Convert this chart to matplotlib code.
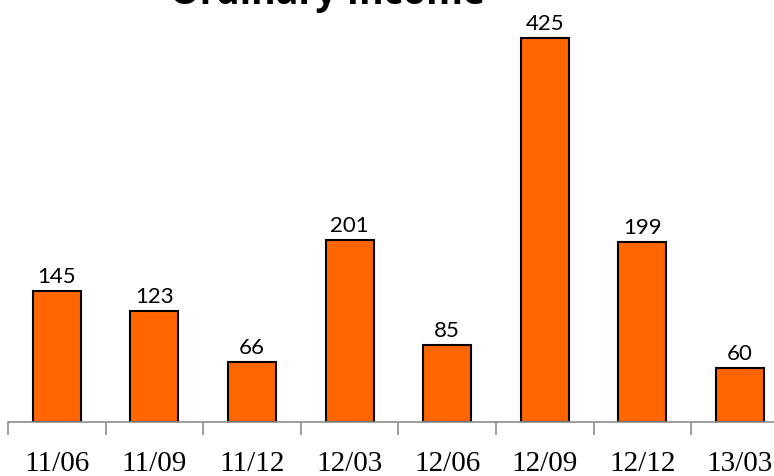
import matplotlib
matplotlib.use("Agg")
import matplotlib.pyplot as plt
from matplotlib.ticker import FixedLocator, NullFormatter

periods = ["11/06", "11/09", "11/12", "12/03", "12/06", "12/09", "12/12", "13/03"]
income = [145, 123, 66, 201, 85, 425, 199, 60]

W, H = 774, 476
fig = plt.figure(figsize=(W / 100, H / 100), dpi=100)

# axes: baseline at y=422 px, category pitch ~97.6 px, starting at x=8 px
left_px, base_px, pitch = 8, 422, 97.6
ymax = 450
px_per_unit = 0.9035
ax_h = ymax * px_per_unit
ax = fig.add_axes([left_px / W, (H - base_px) / H, pitch * len(periods) / W, ax_h / H])

x = list(range(len(periods)))
ax.bar(x, income, width=0.49, color="#FF6600", edgecolor="black", linewidth=1.5, zorder=2)

for xi, v in zip(x, income):
    ax.annotate(str(v), (xi, v), xytext=(0, 3), textcoords="offset points",
                ha="center", va="bottom", fontsize=16, family="Lato", color="black")

ax.set_xlim(-0.5, len(periods) - 0.5)
ax.set_ylim(0, ymax)

for s in ("top", "right", "left"):
    ax.spines[s].set_visible(False)
ax.spines["bottom"].set_color("#8c8c8c")
ax.spines["bottom"].set_linewidth(1.2)
ax.set_yticks([])

# tick marks at category boundaries, labels centred under bars
ax.xaxis.set_major_locator(FixedLocator([i - 0.5 for i in range(len(periods) + 1)]))
ax.xaxis.set_major_formatter(NullFormatter())
ax.tick_params(axis="x", which="major", length=9, width=1.2, color="#8c8c8c", direction="out")
ax.set_xticks(x, minor=True)
ax.set_xticklabels(periods, minor=True, family="Liberation Serif", fontsize=21)
ax.tick_params(axis="x", which="minor", length=0, pad=21)

fig.text(327 / W, 1 - 4 / H, "Ordinary Income", ha="center", va="baseline",
         fontsize=27, fontweight="bold", family="Open Sans")

fig.savefig("out.png", dpi=100)
